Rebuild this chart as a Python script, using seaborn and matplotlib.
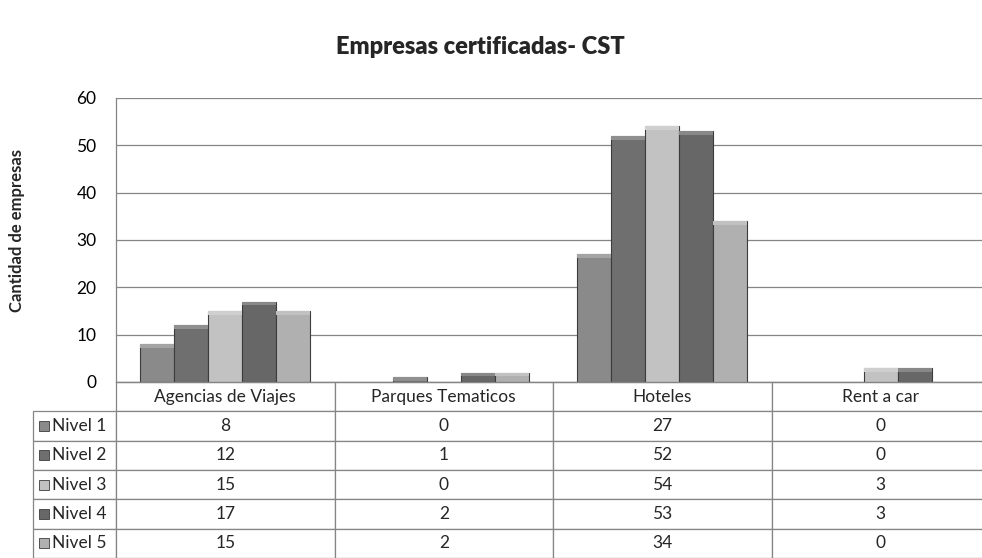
import numpy as np
import pandas as pd
import matplotlib
matplotlib.use("Agg")
import matplotlib.pyplot as plt
import matplotlib.colors as mcolors
from matplotlib.patches import Rectangle
import seaborn as sns

# datos
categorias = ["Agencias de Viajes", "Parques Tematicos", "Hoteles", "Rent a car"]
niveles = ["Nivel 1", "Nivel 2", "Nivel 3", "Nivel 4", "Nivel 5"]
nivel_1 = [8, 0, 27, 0]
nivel_2 = [12, 1, 52, 0]
nivel_3 = [15, 0, 54, 3]
nivel_4 = [17, 2, 53, 3]
nivel_5 = [15, 2, 34, 0]
colores = ["#8a8a8a", "#6f6f6f", "#c2c2c2", "#676767", "#b0b0b0"]
yticks = [0, 10, 20, 30, 40, 50, 60]

valores = [nivel_1, nivel_2, nivel_3, nivel_4, nivel_5]
df = pd.DataFrame({
    "Categoria": categorias * len(niveles),
    "Nivel": np.repeat(niveles, len(categorias)),
    "Cantidad": sum(valores, []),
})

sns.set_theme(style="white")
plt.rcParams["font.family"] = ["Lato", "DejaVu Sans"]

W, H = 982, 558
fig = plt.figure(figsize=(W / 100, H / 100), dpi=100)
# area del grafico en pixeles: x 116..990, y 98..382
ax_w, ax_h = 874, 284
ax = fig.add_axes([116 / W, 1 - 382 / H, ax_w / W, ax_h / H])

sns.barplot(data=df, x="Categoria", y="Cantidad", hue="Nivel", palette=colores,
            saturation=1, width=0.78, edgecolor="#3c3c3c", linewidth=0.8,
            legend=False, ax=ax)

# bisel suave en la parte superior de cada barra
for p in list(ax.patches):
    h = p.get_height()
    if h <= 0:
        p.set_visible(False)
        continue
    c = np.array(mcolors.to_rgb(p.get_facecolor()))
    bh = min(0.8, h)
    ax.add_patch(Rectangle((p.get_x(), h - bh), p.get_width(), bh,
                           facecolor=c + (1 - c) * 0.22, edgecolor="none",
                           zorder=p.get_zorder() + 0.1))

ax.set_ylim(0, 60)
ax.set_yticks(yticks)
ax.set_xticks([])
ax.set_xlabel("")
ax.set_ylabel("")
ax.grid(axis="y", color="#858585", linewidth=0.9)
ax.set_axisbelow(True)
for s in ["top", "right"]:
    ax.spines[s].set_visible(False)
for s in ["left", "bottom"]:
    ax.spines[s].set_color("#858585")
    ax.spines[s].set_linewidth(0.9)
ax.tick_params(axis="y", length=3, color="#858585", pad=11, labelsize=12.5, labelcolor="black")

# tabla de datos bajo el eje (primera columna = etiquetas de fila)
label_w = 83 / ax_w
tab_h = 176 / ax_h
texto = [[n] + [str(v) for v in fila] for n, fila in zip(niveles, valores)]
tabla = ax.table(cellText=texto, colLabels=[""] + categorias, cellLoc="center",
                 colWidths=[label_w] + [0.25] * 4,
                 bbox=[-label_w, -tab_h, 1 + label_w, tab_h])
tabla.auto_set_font_size(False)
tabla.set_fontsize(12.5)
for (r, c), cell in tabla.get_celld().items():
    cell.set_edgecolor("#858585")
    cell.set_linewidth(0.9)
    if c == 0:
        cell.PAD = 0.23
        cell.get_text().set_horizontalalignment("left")
        if r == 0:
            cell.visible_edges = ""

# cuadritos de leyenda en la tabla
rh = tab_h / 6
for i, col in enumerate(colores):
    yc = -rh * (i + 1.5)
    ax.add_patch(Rectangle((-77 / ax_w, yc - 5 / ax_h), 10 / ax_w, 10 / ax_h,
                           transform=ax.transAxes, clip_on=False,
                           facecolor=col, edgecolor="#3c3c3c", linewidth=0.6))

fig.text(480 / W, 1 - 47 / H, "Empresas certificadas- CST", ha="center", va="center",
         fontsize=17, fontweight="heavy")
fig.text(17 / W, 1 - 230 / H, "Cantidad de empresas", ha="center", va="center",
         rotation=90, fontsize=12, fontweight="bold")

fig.savefig("out.png", dpi=100)
